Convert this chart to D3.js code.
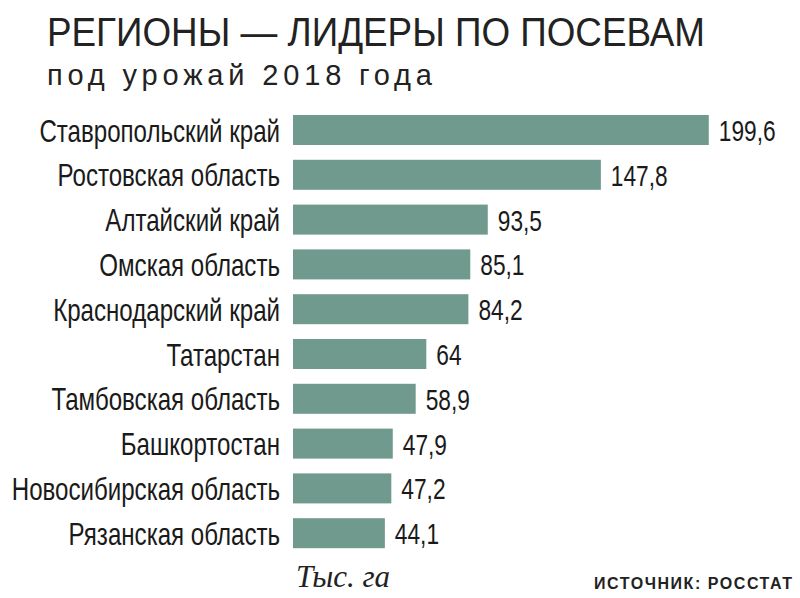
<!DOCTYPE html>
<html><head><meta charset="utf-8">
<script src="https://cdn.jsdelivr.net/npm/d3@7"></script>
<style>
body{margin:0;background:#fff;}
svg{display:block;}
</style></head>
<body>
<svg id="c" width="800" height="598"></svg>
<script>
const regions = ["Ставропольский край","Ростовская область","Алтайский край","Омская область","Краснодарский край","Татарстан","Тамбовская область","Башкортостан","Новосибирская область","Рязанская область"];
const values = [199.6,147.8,93.5,85.1,84.2,64,58.9,47.9,47.2,44.1];
const labels = ["199,6","147,8","93,5","85,1","84,2","64","58,9","47,9","47,2","44,1"];
const title = "РЕГИОНЫ — ЛИДЕРЫ ПО ПОСЕВАМ";
const subtitle = "под урожай 2018 года";
const unit = "Тыс. га";
const source = "ИСТОЧНИК: РОССТАТ";

const svg = d3.select("#c");
const sans = "'Liberation Sans',Arial,sans-serif";
const sx = 0.79;
const x0 = 293;
const x = d3.scaleLinear().domain([0,200]).range([x0, x0+416.6]);
const y = d3.scaleBand().domain(regions).range([107.6,555.6]).paddingInner(0.33).paddingOuter(0.165);

svg.append("text").attr("x",47).attr("y",46).attr("font-family",sans).attr("font-size",40)
  .attr("fill","#222").attr("textLength",658).attr("lengthAdjust","spacingAndGlyphs").text(title);
svg.append("text").attr("x",47).attr("y",85).attr("font-family",sans).attr("font-size",29)
  .attr("fill","#222").attr("textLength",385).attr("lengthAdjust","spacing").text(subtitle);

const g = svg.append("g");
g.selectAll("rect").data(regions).join("rect")
  .attr("x",x(0)).attr("y",d=>y(d)).attr("height",y.bandwidth())
  .attr("width",(d,i)=>x(values[i])-x(0)).attr("fill","#709a8e");
g.selectAll("text.cat").data(regions).join("text").attr("class","cat")
  .attr("transform",d=>`translate(${x(0)-13},${y(d)+y.bandwidth()/2+11.5}) scale(${sx},1)`)
  .attr("text-anchor","end")
  .attr("font-family",sans).attr("font-size",30.5).attr("fill","#1a1a1a").text(d=>d);
g.selectAll("text.val").data(regions).join("text").attr("class","val")
  .attr("transform",(d,i)=>`translate(${x(values[i])+10},${y(d)+y.bandwidth()/2+11})  scale(0.77,1)`)
  .attr("font-family",sans).attr("font-size",29.5).attr("fill","#1a1a1a").text((d,i)=>labels[i]);

svg.append("text").attr("x",296).attr("y",587).attr("font-family","'Liberation Serif',serif")
  .attr("font-style","italic").attr("font-size",31).attr("fill","#222")
  .attr("textLength",94).attr("lengthAdjust","spacingAndGlyphs").text(unit);
svg.append("text").attr("x",594).attr("y",589).attr("font-family",sans).attr("font-weight","bold")
  .attr("font-size",16).attr("fill","#222").attr("textLength",198).attr("lengthAdjust","spacing").text(source);
</script>
</body></html>
